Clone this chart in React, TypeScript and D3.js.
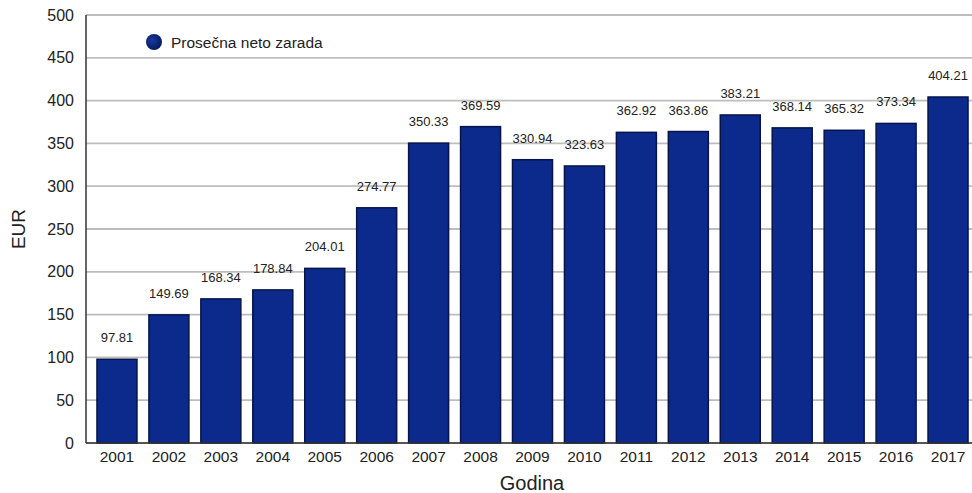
import React from "react";
import * as d3 from "d3";

const years = ["2001","2002","2003","2004","2005","2006","2007","2008","2009","2010","2011","2012","2013","2014","2015","2016","2017"];
const values = [97.81,149.69,168.34,178.84,204.01,274.77,350.33,369.59,330.94,323.63,362.92,363.86,383.21,368.14,365.32,373.34,404.21];
const yTicks = [0,50,100,150,200,250,300,350,400,450,500];
const seriesName = "Prosečna neto zarada";

const W = 972, H = 493;
const left = 86, top = 15, bottom = 443;

export default function App() {
  const x = d3.scaleBand<string>().domain(years).range([91, 974]).paddingInner(0.23).paddingOuter(0.115);
  const y = d3.scaleLinear().domain([0, 500]).range([bottom, top]);
  const font = "'Liberation Sans', Arial, sans-serif";
  return (
    <svg width={W} height={H} style={{ position: "absolute", left: 0, top: 0, background: "#fff" }} fontFamily={font}>
      <defs>
        <radialGradient id="lg" cx="40%" cy="40%" r="60%">
          <stop offset="0%" stopColor="#1a3aa0" />
          <stop offset="100%" stopColor="#061a5e" />
        </radialGradient>
      </defs>
      {yTicks.map(t => (
        <g key={t}>
          <line x1={left} x2={W} y1={y(t)} y2={y(t)} stroke="#bdbdbd" strokeWidth={1.8} />
          <text x={74} y={y(t) + 5.5} textAnchor="end" fontSize={16} fill="#222">{t}</text>
        </g>
      ))}
      {years.map((yr, i) => (
        <g key={yr}>
          <rect x={x(yr)!} y={y(values[i])} width={x.bandwidth()} height={bottom - y(values[i])}
            fill="#0b2a8c" stroke="#06144a" strokeWidth={1.5} />
          <text x={x(yr)! + x.bandwidth() / 2} y={y(values[i]) - 17} textAnchor="middle" fontSize={13} fill="#222">
            {values[i].toFixed(2)}
          </text>
          <text x={x(yr)! + x.bandwidth() / 2} y={bottom + 19} textAnchor="middle" fontSize={15.5} fill="#222">{yr}</text>
        </g>
      ))}
      <line x1={left} x2={left} y1={top} y2={bottom} stroke="#333" strokeWidth={1.5} />
      <line x1={left} x2={W} y1={bottom} y2={bottom} stroke="#333" strokeWidth={1.5} />
      <circle cx={154} cy={42} r={8} fill="url(#lg)" />
      <text x={171} y={47.5} fontSize={15.5} fill="#222">{seriesName}</text>
      <text x={532} y={490} textAnchor="middle" fontSize={20} fill="#222">Godina</text>
      <text transform={`translate(25,${229}) rotate(-90)`} textAnchor="middle" fontSize={19} fill="#222">EUR</text>
    </svg>
  );
}
